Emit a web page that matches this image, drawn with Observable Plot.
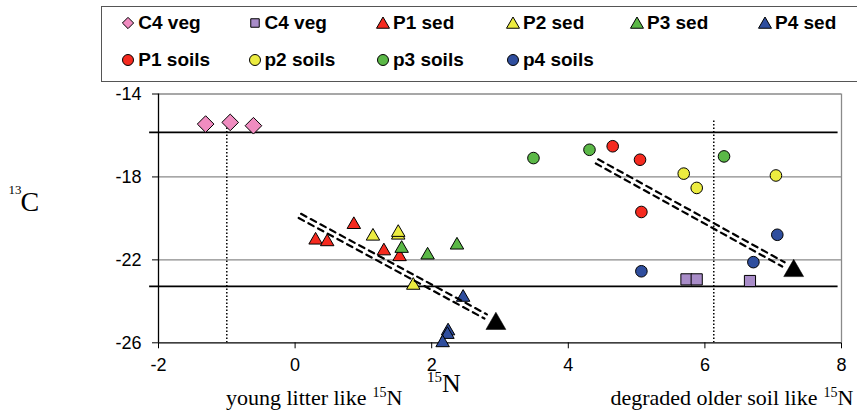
<!DOCTYPE html>
<html><head><meta charset="utf-8">
<script src="https://cdn.jsdelivr.net/npm/d3@7"></script>
<script src="https://cdn.jsdelivr.net/npm/@observablehq/plot@0.6"></script>
<style>
html,body{margin:0;padding:0;background:#fff;}
#wrap{position:relative;width:857px;height:417px;overflow:hidden;background:#fff;}
#legend{position:relative;width:857px;height:84px;}
#legend .box{position:absolute;left:101px;top:6px;width:800px;height:74px;border:1.5px solid #555;}
.item{position:absolute;display:flex;align-items:center;height:24px;font:bold 19px "Liberation Sans",Arial,sans-serif;color:#000;white-space:nowrap;}
.item svg{margin-right:3px;overflow:visible}
#chart svg{display:block}
</style></head>
<body><div id="wrap"><div id="legend"><div class="box"></div></div><div id="chart"></div></div>
<script>
// ---- data ----
const xTicks = [-2, 0, 2, 4, 6, 8];
const yTicks = [-26, -22, -18, -14];

const c4VegDiamondX = [-1.31, -0.95, -0.61];
const c4VegDiamondY = [-15.45, -15.37, -15.53];
const c4VegSquareX = [5.73, 5.88, 6.66];
const c4VegSquareY = [-22.94, -22.94, -23.02];

const p1SedX = [0.30, 0.47, 0.86, 1.30, 1.53];
const p1SedY = [-21.05, -21.13, -20.30, -21.57, -21.85];
const p2SedX = [1.14, 1.51, 1.51, 1.73];
const p2SedY = [-20.86, -20.81, -20.68, -23.23];
const p3SedX = [1.56, 1.94, 2.37];
const p3SedY = [-21.45, -21.77, -21.29];
const p4SedX = [2.46, 2.24, 2.23, 2.16];
const p4SedY = [-23.81, -25.43, -25.60, -26.00];

const p1SoilX = [4.65, 5.05, 5.07];
const p1SoilY = [-16.52, -17.17, -19.69];
const p2SoilX = [5.69, 5.88, 7.04];
const p2SoilY = [-17.84, -18.53, -17.93];
const p3SoilX = [3.49, 4.31, 6.28];
const p3SoilY = [-17.09, -16.69, -17.01];
const p4SoilX = [5.07, 6.71, 7.06];
const p4SoilY = [-22.55, -22.11, -20.79];

const endMemberX = [2.94, 7.30];
const endMemberY = [-25.08, -22.53];

const trendSedX = [0.07, 2.79];
const trendSedY = [-19.88, -24.73];
const trendSoilX = [4.42, 7.15];
const trendSoilY = [-17.25, -22.22];

const refLineY = [-15.85, -23.28];
const refLineX = [-2.13, 7.95];
const gridY = [-18, -22];
const dottedX = [-1, 6.13];
const dottedY = [-15.3, -26];

const legendLabels = ["C4 veg", "C4 veg", "P1 sed", "P2 sed", "P3 sed", "P4 sed", "P1 soils", "p2 soils", "p3 soils", "p4 soils"];
const legendSymbols = ["diamond2", "square", "triangle", "triangle", "triangle", "triangle", "circle", "circle", "circle", "circle"];
const legendColors = ["#f08cc0", "#a88cc8", "#f52a1f", "#ecec40", "#5bb847", "#2f4e9e", "#f52a1f", "#ecec40", "#5bb847", "#2f4e9e"];

// ---- helpers ----
const pts = (xs, ys) => xs.map((x, i) => ({x, y: ys[i]}));

// ---- legend (HTML) ----
const legCols = [128.3, 254.5, 383, 513, 637, 765];
const legRows = [23, 60];
const d3Sym = {diamond2: [d3.symbolDiamond2, 81], square: [d3.symbolSquare, 72], triangle: [d3.symbolTriangle, 73], circle: [d3.symbolCircle, 95]};
const legend = document.getElementById("legend");
legendLabels.forEach((lab, i) => {
  const col = i < 6 ? i : i - 6, row = i < 6 ? 0 : 1;
  const div = document.createElement("div");
  div.className = "item";
  div.style.left = (legCols[col] - 7) + "px";
  div.style.top = (legRows[row] - 12) + "px";
  const [sym, size] = d3Sym[legendSymbols[i]];
  const tri = legendSymbols[i] === "triangle" ? 1.5 : 0;
  div.innerHTML = `<svg width="14" height="14" viewBox="-7 -7 14 14"><path d="${d3.symbol(sym, size)()}" transform="translate(0,${tri})" fill="${legendColors[i]}" stroke="#000" stroke-width="1"/></svg><span>${lab}</span>`;
  legend.appendChild(div);
});

// ---- chart ----
const series = [
  {d: pts(p1SedX, p1SedY), symbol: "triangle", fill: legendColors[2], r: 5},
  {d: pts(p2SedX, p2SedY), symbol: "triangle", fill: legendColors[3], r: 5},
  {d: pts(p3SedX, p3SedY), symbol: "triangle", fill: legendColors[4], r: 5},
  {d: pts(p4SedX, p4SedY), symbol: "triangle", fill: legendColors[5], r: 5},
  {d: pts(p1SoilX, p1SoilY), symbol: "circle", fill: legendColors[6], r: 5.8},
  {d: pts(p2SoilX, p2SoilY), symbol: "circle", fill: legendColors[7], r: 5.8},
  {d: pts(p3SoilX, p3SoilY), symbol: "circle", fill: legendColors[8], r: 5.8},
  {d: pts(p4SoilX, p4SoilY), symbol: "circle", fill: legendColors[9], r: 5.8},
  {d: pts(c4VegSquareX, c4VegSquareY), symbol: "square", fill: legendColors[1], r: 6.3},
  {d: pts(c4VegDiamondX, c4VegDiamondY), symbol: "diamond2", fill: legendColors[0], r: 7.5}
];

const serif = "Liberation Serif, Times New Roman, serif";
const lbl = (t, o) => Plot.text([t], {text: d => d, fontFamily: serif, fill: "black", ...o});

const plot = Plot.plot({
  width: 857, height: 333,
  marginLeft: 158, marginRight: 16, marginTop: 9.5, marginBottom: 74.7,
  style: {fontFamily: "Liberation Sans, Arial, sans-serif", fontSize: "18px", color: "black", background: "white", overflow: "visible"},
  x: {domain: [-2, 8], ticks: xTicks, tickSize: 6, tickPadding: 9, label: null, tickFormat: d => String(d)},
  y: {domain: [-26, -14], ticks: yTicks, tickSize: 6, tickPadding: 11, label: null, tickFormat: d => String(d)},
  marks: [
    Plot.ruleY([-14], {stroke: "#8a8a8a", strokeWidth: 1.3}),
    Plot.ruleY(gridY, {stroke: "#8a8a8a", strokeWidth: 1.3}),
    Plot.ruleX([8], {y1: -26, y2: -14, stroke: "#8a8a8a", strokeWidth: 1.3}),
    Plot.ruleY(refLineY, {x1: refLineX[0], x2: refLineX[1], stroke: "black", strokeWidth: 1.6}),
    Plot.ruleX(dottedX, {y1: dottedY[0], y2: dottedY[1], stroke: "black", strokeWidth: 1.5, strokeDasharray: "1.5,2"}),
    Plot.ruleX([-2], {y1: -26, y2: -14, stroke: "black", strokeWidth: 1.3}),
    Plot.ruleY([-26], {stroke: "black", strokeWidth: 1.3}),
    ...series.map(s => Plot.dot(s.d, {x: "x", y: "y", symbol: s.symbol, fill: s.fill, stroke: "black", strokeWidth: 1, r: s.r})),
    ...[[-1.2, 2.1], [1.2, -2.1]].flatMap(([dx, dy]) => [
      Plot.line(pts(trendSedX, trendSedY), {x: "x", y: "y", stroke: "black", strokeWidth: 2.2, strokeDasharray: "6,5", dx, dy}),
      Plot.line(pts(trendSoilX, trendSoilY), {x: "x", y: "y", stroke: "black", strokeWidth: 2.2, strokeDasharray: "6,5", dx, dy})
    ]),
    Plot.dot(pts(endMemberX, endMemberY), {x: "x", y: "y", symbol: "triangle", fill: "black", stroke: "black", strokeWidth: 0.5, r: 7.4}),
    // y label 13C
    lbl("C", {frameAnchor: "left", textAnchor: "start", dx: -138, dy: -16, fontSize: 28}),
    lbl("13", {frameAnchor: "left", textAnchor: "start", dx: -150, dy: -29, fontSize: 13}),
    // x labels
    lbl("young litter like", {frameAnchor: "bottom", textAnchor: "end", dx: -133.5, dy: 62, fontSize: 22}),
    lbl("15", {frameAnchor: "bottom", textAnchor: "start", dx: -127.5, dy: 54, fontSize: 14}),
    lbl("N", {frameAnchor: "bottom", textAnchor: "start", dx: -113.5, dy: 62, fontSize: 22}),
    lbl("degraded older soil like", {frameAnchor: "bottom", textAnchor: "end", dx: 317.5, dy: 62, fontSize: 22}),
    lbl("15", {frameAnchor: "bottom", textAnchor: "start", dx: 323.5, dy: 54, fontSize: 14}),
    lbl("N", {frameAnchor: "bottom", textAnchor: "start", dx: 337.5, dy: 62, fontSize: 22}),
    lbl("15", {frameAnchor: "bottom", textAnchor: "start", dx: -73, dy: 39.5, fontSize: 15, ariaLabel: "xlabel-main"}),
    lbl("N", {frameAnchor: "bottom", textAnchor: "start", dx: -58, dy: 49.5, fontSize: 26, ariaLabel: "xlabel-main"})
  ]
});
document.getElementById("chart").appendChild(plot);

// white box behind the main x-axis title (it masks most of the "2" tick label as in the source)
const mains = d3.select(plot).selectAll('g[aria-label="xlabel-main"]').nodes();
if (mains.length) {
  let x0 = Infinity, y0 = Infinity, x1 = -Infinity, y1 = -Infinity;
  mains.forEach(g => {
    const b = g.getBBox();
    x0 = Math.min(x0, b.x); y0 = Math.min(y0, b.y);
    x1 = Math.max(x1, b.x + b.width); y1 = Math.max(y1, b.y + b.height);
  });
  const rect = document.createElementNS("http://www.w3.org/2000/svg", "rect");
  rect.setAttribute("x", x0 - 4); rect.setAttribute("y", y0 - 2);
  rect.setAttribute("width", x1 - x0 + 8); rect.setAttribute("height", y1 - y0 + 4);
  rect.setAttribute("fill", "white");
  plot.appendChild(rect);
  mains.forEach(g => plot.appendChild(g));
}
</script>
</body></html>
